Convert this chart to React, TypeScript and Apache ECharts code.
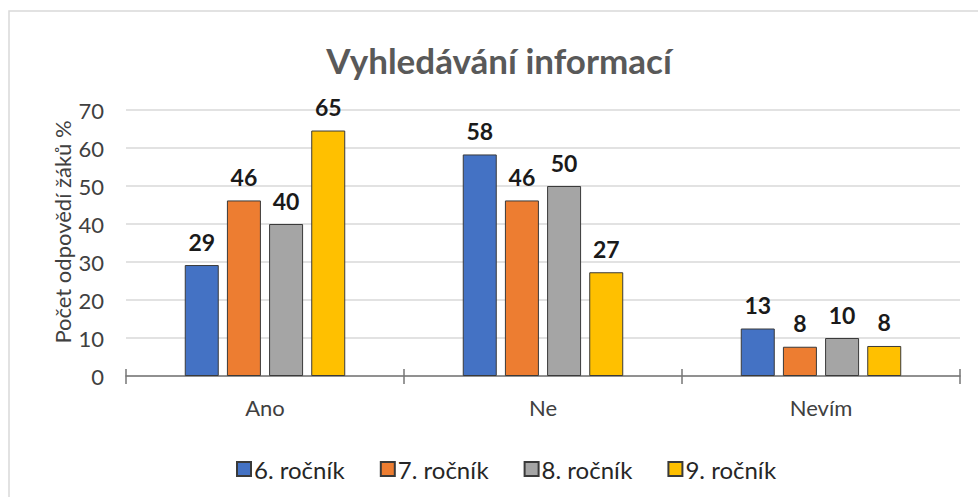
import React, { useEffect, useRef } from "react";
import * as echarts from "echarts";

const categories = ["Ano", "Ne", "Nevím"];
const seriesNames = ["6. ročník", "7. ročník", "8. ročník", "9. ročník"];
const grade6 = [29.2, 58.3, 12.5];
const grade7 = [46.2, 46.2, 7.7];
const grade8 = [40, 50, 10];
const grade9 = [64.6, 27.3, 7.9];
const colors = ["#4472C4", "#ED7D31", "#A5A5A5", "#FFC000"];
const yTicks = { min: 0, max: 70, interval: 10 };
const titleText = "Vyhledávání informací";
const yAxisTitle = "Počet odpovědí žáků %";

const FONT = "Lato, 'Open Sans', sans-serif";

export default function App() {
  const ref = useRef<HTMLDivElement>(null);
  useEffect(() => {
    if (!ref.current) return;
    const chart = echarts.init(ref.current, undefined, { renderer: "svg" });
    const data = [grade6, grade7, grade8, grade9];
    chart.setOption({
      animation: false,
      backgroundColor: "#fff",
      textStyle: { fontFamily: FONT },
      title: {
        text: titleText,
        left: 494,
        top: 37,
        textAlign: "center",
        textStyle: { fontFamily: FONT, fontSize: 35, fontWeight: "bold", color: "#595959" },
      },
      legend: {
        data: seriesNames,
        left: 231,
        top: 452,
        itemWidth: 14,
        itemHeight: 14,
        itemGap: 35,
        icon: "rect",
        textStyle: { fontFamily: FONT, fontSize: 24, color: "#262626", padding: [0, 0, 0, -2] },
      },
      grid: { left: 126, right: 18, top: 110, bottom: 121, containLabel: false },
      xAxis: [
        {
          type: "category",
          data: categories,
          position: "bottom",
          axisLine: { show: true, lineStyle: { color: "#767676", width: 1.5 } },
          axisTick: { show: true, length: 8, lineStyle: { color: "#767676", width: 1.5 } },
          axisLabel: { margin: 20, fontSize: 22, color: "#404040", fontFamily: FONT },
          splitLine: { show: false },
        },
        {
          type: "category",
          data: categories,
          position: "bottom",
          axisLine: { show: false },
          axisTick: { show: true, inside: true, length: 7, lineStyle: { color: "#767676", width: 1.5 } },
          axisLabel: { show: false },
          splitLine: { show: false },
        },
      ],
      yAxis: {
        type: "value",
        min: yTicks.min,
        max: yTicks.max,
        interval: yTicks.interval,
        axisLine: { show: false },
        axisTick: { show: false },
        axisLabel: { margin: 22, fontSize: 22, color: "#404040", fontFamily: FONT },
        splitLine: { lineStyle: { color: "#D9D9D9", width: 1.5 } },
      },
      graphic: [
        {
          type: "rect",
          shape: { x: 9, y: 11, width: 1200, height: 1000 },
          style: { fill: "none", stroke: "#D9D9D9", lineWidth: 1.5 },
          silent: true,
        },
        {
          type: "text",
          x: 62,
          y: 232,
          rotation: Math.PI / 2,
          style: {
            text: yAxisTitle,
            fontFamily: FONT,
            fontSize: 22,
            fill: "#404040",
            align: "center",
            verticalAlign: "middle",
          },
        },
      ],
      series: seriesNames.map((name, i) => ({
        name,
        type: "bar",
        data: data[i],
        barWidth: 34,
        barGap: "24%",
        itemStyle: { color: colors[i], borderColor: "#3a3a3a", borderWidth: 1 },
        label: {
          show: true,
          position: "top",
          distance: 12,
          fontFamily: FONT,
          fontSize: 23,
          fontWeight: "bold",
          color: "#1a1a1a",
          formatter: (p: any) => String(Math.round(p.value)),
        },
      })),
    });
    return () => chart.dispose();
  }, []);
  return (
    <div
      ref={ref}
      style={{ position: "absolute", left: 0, top: 0, width: 978, height: 497 }}
    />
  );
}
